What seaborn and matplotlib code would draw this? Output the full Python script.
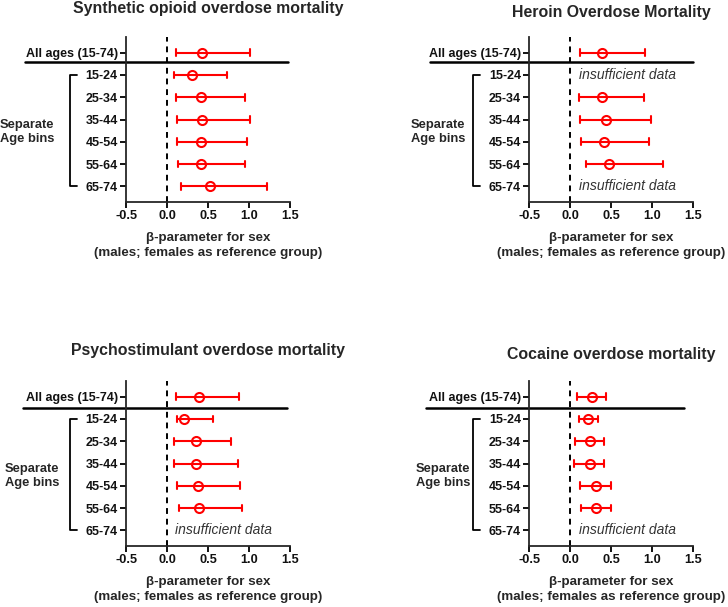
import numpy as np
import pandas as pd
import matplotlib
matplotlib.use('Agg')
import matplotlib.pyplot as plt
import seaborn as sns

# row labels (top to bottom)
rows = ['All ages (15-74)', '15-24', '25-34', '35-44', '45-54', '55-64', '65-74']

# beta estimates and 95% CI per panel (None = insufficient data)
opioid_est = [0.43, 0.31, 0.41, 0.43, 0.42, 0.41, 0.52]
opioid_lo = [0.11, 0.08, 0.11, 0.12, 0.12, 0.13, 0.17]
opioid_hi = [1.01, 0.73, 0.95, 1.01, 0.98, 0.95, 1.22]

heroin_est = [0.39, None, 0.39, 0.43, 0.41, 0.47, None]
heroin_lo = [0.12, None, 0.10, 0.12, 0.13, 0.19, None]
heroin_hi = [0.91, None, 0.90, 0.98, 0.96, 1.13, None]

psycho_est = [0.39, 0.21, 0.35, 0.35, 0.38, 0.39, None]
psycho_lo = [0.11, 0.12, 0.09, 0.09, 0.12, 0.14, None]
psycho_hi = [0.88, 0.56, 0.78, 0.87, 0.89, 0.91, None]

cocaine_est = [0.26, 0.22, 0.24, 0.24, 0.31, 0.31, None]
cocaine_lo = [0.085, 0.10, 0.06, 0.04, 0.12, 0.13, None]
cocaine_hi = [0.43, 0.34, 0.41, 0.41, 0.49, 0.50, None]

titles = ['Synthetic opioid overdose mortality', 'Heroin Overdose Mortality',
          'Psychostimulant overdose mortality', 'Cocaine overdose mortality']

sns.set_style('ticks')
plt.rcParams['font.family'] = ['Liberation Sans', 'DejaVu Sans']

fig = plt.figure(figsize=(7.28, 6.07), dpi=100)

panels = [
    (opioid_est, opioid_lo, opioid_hi, [0.1731, 0.6672, 0.2253, 0.2718], 0.41, (-0.616, 0.988), -0.768, (208, 9)),
    (heroin_est, heroin_lo, heroin_hi, [0.7271, 0.6672, 0.2253, 0.2718], 0.41, (-0.605, 0.998), -0.723, (611, 12)),
    (psycho_est, psycho_lo, psycho_hi, [0.1731, 0.1005, 0.2253, 0.2718], 0.52, (-0.628, 0.98), -0.738, (208, 350)),
    (cocaine_est, cocaine_lo, cocaine_hi, [0.7271, 0.1005, 0.2253, 0.2718], 0.52, (-0.63, 0.945), -0.69, (611, 355)),
]

for i, (est, lo, hi, pos, div_y, div_x, txt_x, tpos) in enumerate(panels):
    ax = fig.add_axes(pos)

    # long format: lo / est / hi per row -> median = est, min/max = CI
    recs = []
    for r, e, l, h in zip(rows, est, lo, hi):
        if e is None:
            continue
        for v in (l, e, h):
            recs.append({'row': r, 'beta': v})
    df = pd.DataFrame(recs)
    df['row'] = pd.Categorical(df['row'], categories=rows)

    sns.pointplot(data=df, x='beta', y='row', order=rows, estimator='median',
                  errorbar=lambda v: (v.min(), v.max()), color='#ff0000',
                  linestyle='none', marker='o', markersize=6.5,
                  markerfacecolor='white', markeredgewidth=1.5,
                  capsize=0.3, err_kws={'linewidth': 1.5}, ax=ax, zorder=3)

    ax.axvline(0, color='black', linestyle=(0, (3, 2.5)), linewidth=1.4, zorder=1)

    for r, e in zip(rows, est):
        if e is None:
            ax.text(0.1, rows.index(r), 'insufficient data', style='italic',
                    fontsize=10, color='#333333', va='center', ha='left')

    ax.set_xlim(-0.5, 1.5)
    ax.set_ylim(6.7, -0.7)
    ax.set_xticks([-0.5, 0.0, 0.5, 1.0, 1.5])
    ax.set_xticklabels(['-0.5', '0.0', '0.5', '1.0', '1.5'], fontweight='bold', fontsize=9.2)
    ax.set_yticks(range(len(rows)))
    ax.set_yticklabels(rows, fontweight='bold', fontsize=9)
    ax.tick_params(length=4, width=1.3, color='black', labelcolor='#111111', pad=2)
    ax.set_ylabel('')
    ax.set_xlabel('β-parameter for sex\n(males; females as reference group)',
                  fontweight='bold', fontsize=9.6, labelpad=7, linespacing=1.35)
    for s in ['top', 'right']:
        ax.spines[s].set_visible(False)
    for s in ['left', 'bottom']:
        ax.spines[s].set_linewidth(1.3)

    # separator between pooled and age-binned rows
    tr = ax.get_yaxis_transform()
    ax.plot(list(div_x), [div_y, div_y], color='black', linewidth=1.8,
            transform=tr, clip_on=False)

    # bracket for the age bins
    ax.plot([-0.30, -0.342, -0.342, -0.30], [1, 1, 6, 6], color='black',
            linewidth=1.3, transform=tr, clip_on=False)
    ax.text(txt_x, 3.55, 'Separate\nAge bins', transform=tr, fontweight='bold',
            fontsize=9.3, va='center', ha='left', linespacing=1.2)

    fig.text(tpos[0] / 728, 1 - tpos[1] / 607, titles[i], fontweight='bold',
             fontsize=11.4, ha='center', va='center')

fig.savefig('out.png', dpi=100)
